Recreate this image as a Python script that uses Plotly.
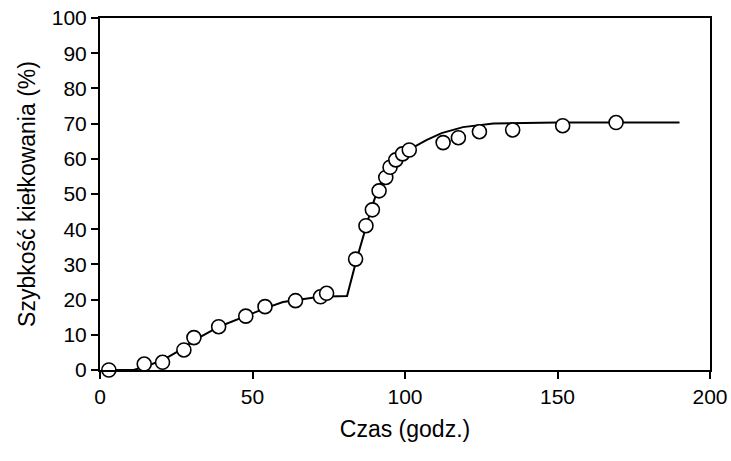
import plotly.graph_objects as go

# Measured points (open circles)
czas = [2.9, 14.5, 20.5, 27.5, 30.8, 38.9, 47.8, 54.1, 64.1, 72.3, 74.3,
        83.8, 87.2, 89.3, 91.5, 93.7, 95.1, 97.0, 99.2, 101.4,
        112.5, 117.5, 124.4, 135.3, 151.7, 169.2]
szybkosc = [0.0, 1.7, 2.2, 5.7, 9.2, 12.3, 15.3, 18.0, 19.7, 20.8, 21.8,
            31.5, 41.0, 45.5, 50.9, 54.7, 57.6, 59.7, 61.4, 62.5,
            64.6, 66.0, 67.7, 68.2, 69.4, 70.3]

# Fitted curve
fit_x = [3, 11, 15, 21, 27, 31, 39, 48, 55, 60, 65, 72, 81, 84, 87, 89, 91,
         93, 95, 97, 99, 101, 104, 107, 112, 119, 129, 150, 190]
fit_y = [0, 0, 1.0, 3.0, 6.0, 8.5, 12.3, 15.5, 17.8, 19.3, 20.0, 20.8, 21.0,
         31.0, 40.0, 46.0, 51.0, 55.0, 58.0, 60.0, 61.5, 62.5, 63.8, 65.3,
         67.3, 69.0, 70.0, 70.3, 70.3]

x_ticks = [0, 50, 100, 150, 200]
y_ticks = [0, 10, 20, 30, 40, 50, 60, 70, 80, 90, 100]

fig = go.Figure()
fig.add_trace(go.Scatter(x=fit_x, y=fit_y, mode="lines",
                         line=dict(color="black", width=2), showlegend=False,
                         cliponaxis=False))
fig.add_trace(go.Scatter(x=czas, y=szybkosc, mode="markers",
                         marker=dict(symbol="circle", size=14, color="white",
                                     line=dict(color="black", width=1.6)),
                         showlegend=False, cliponaxis=False))

font = "Liberation Sans, Arial, sans-serif"
fig.update_layout(
    width=731, height=461,
    margin=dict(l=100, r=21, t=18, b=91, autoexpand=False),
    paper_bgcolor="white", plot_bgcolor="white",
    font=dict(family=font, color="black", size=21),
    xaxis=dict(range=[0, 200], tickvals=x_ticks, ticks="outside", ticklen=7,
               tickwidth=1.5, tickcolor="black", showline=True, linewidth=2,
               linecolor="black", mirror=True, showgrid=False, zeroline=False,
               tickfont=dict(size=21), automargin=False,
               title=dict(text="Czas (godz.)", font=dict(size=23), standoff=14)),
    yaxis=dict(range=[0, 100], tickvals=y_ticks, ticks="outside", ticklen=7,
               tickwidth=1.5, tickcolor="black", showline=True, linewidth=2,
               linecolor="black", mirror=True, showgrid=False, zeroline=False,
               tickfont=dict(size=21), automargin=False,
               title=dict(text="Szybkość kiełkowania (%)", font=dict(size=23),
                          standoff=10)),
)

fig.write_html("out.html",
               config={"displayModeBar": False},
               post_script="document.body.style.margin='0';"
                           "document.body.style.overflow='hidden';")
